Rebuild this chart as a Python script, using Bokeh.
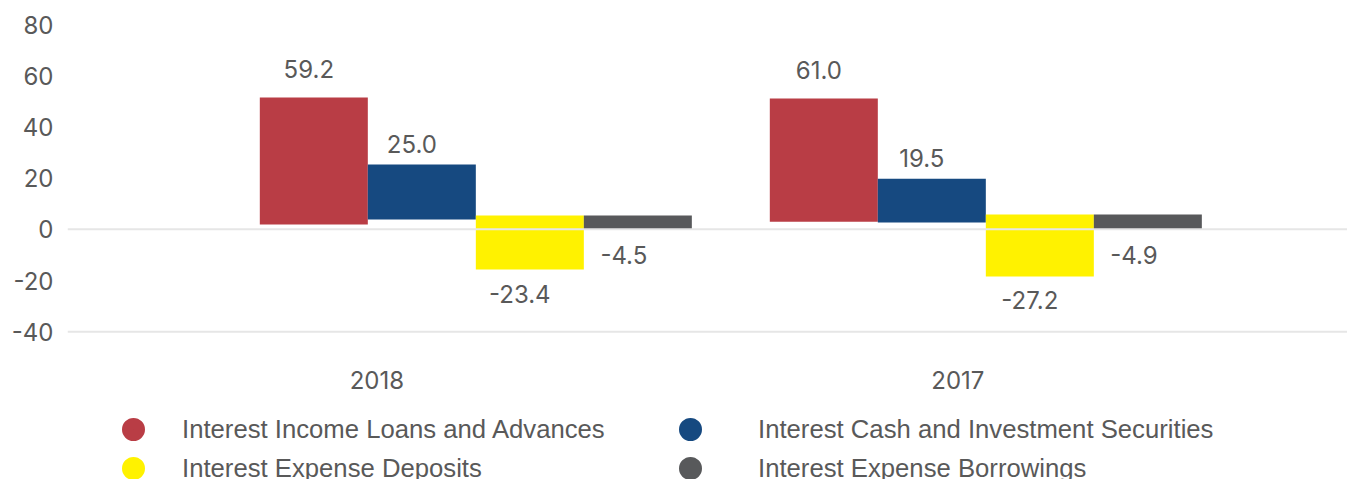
from bokeh.plotting import figure
from bokeh.models import ColumnDataSource, FixedTicker, Span, Legend, LegendItem, Range1d
from bokeh.core.properties import value
from bokeh.embed import file_html
from bokeh.resources import INLINE

# ---------------- data ----------------
years = ["2018", "2017"]
series = [
    "Interest Income Loans and Advances",
    "Interest Cash and Investment Securities",
    "Interest Expense Deposits",
    "Interest Expense Borrowings",
]
colors = ["#B93D45", "#164980", "#FFF200", "#58595B"]

# printed data labels
labels_2018 = [59.2, 25.0, -23.4, -4.5]
labels_2017 = [61.0, 19.5, -27.2, -4.9]

# floating bar extents as drawn on the value axis
bar_top_2018 = [51.5, 25.3, 5.4, 5.4]
bar_bottom_2018 = [1.9, 3.8, -15.7, 0.0]
bar_top_2017 = [51.1, 19.8, 5.8, 5.8]
bar_bottom_2017 = [3.0, 2.7, -18.4, 0.0]

y_ticks = [-40, -20, 0, 20, 40, 60, 80]
y_min, y_max = -40, 80

# ---------------- layout / style ----------------
GROUP_SHIFT = [0.1704, 0.0482]   # bar group centre relative to its category position
BAR_W = 0.1859
LABEL_OFFSETS = [28, 21, 24, 26]      # px distance of label from bar end, per series
LABEL_X_OFFSETS = [-5, -10, -10, -14]  # px horizontal nudge of labels, per series
CAT_LABEL_OFFSET = 48                 # px below the baseline (-40) line
TEXT = "#595959"
LINE = "#E6E6E6"
NUM_FONT = "Inter"
LEG_FONT = "Liberation Sans"

groups = [
    (labels_2018, bar_top_2018, bar_bottom_2018),
    (labels_2017, bar_top_2017, bar_bottom_2017),
]

bx, btop, bbot, bcol = [], [], [], []
lx, ly, lxoff, loff, ltxt = [], [], [], [], []
for gi, (labs, tops, bots) in enumerate(groups):
    centre = gi + GROUP_SHIFT[gi]
    for si in range(len(series)):
        x = centre + (si - 1.5) * BAR_W
        bx.append(x)
        btop.append(tops[si])
        bbot.append(bots[si])
        bcol.append(colors[si])
        lx.append(x)
        lxoff.append(LABEL_X_OFFSETS[si])
        if labs[si] >= 0:
            ly.append(tops[si])
            loff.append(-LABEL_OFFSETS[si])
        else:
            ly.append(bots[si])
            loff.append(LABEL_OFFSETS[si])
        ltxt.append(f"{labs[si]:.1f}")

bars = ColumnDataSource(dict(x=bx, top=btop, bottom=bbot, color=bcol))
lbls = ColumnDataSource(dict(x=lx, y=ly, xoff=lxoff, yoff=loff, text=ltxt))
cats = ColumnDataSource(dict(x=list(range(len(years))), y=[y_min] * len(years), text=years))

# frame spans from the 80 line down to the bottom of the picture (legend area included)
p = figure(
    width=1347, height=479,
    x_range=Range1d(-0.5324, 1.6707), y_range=Range1d(-97.7, y_max),
    output_backend="svg", toolbar_location=None,
    min_border_left=67, min_border_right=0, min_border_top=24, min_border_bottom=0,
)
p.outline_line_color = None
p.xgrid.visible = False
p.ygrid.visible = False
p.xaxis.visible = False

p.vbar(x="x", width=BAR_W, top="top", bottom="bottom", fill_color="color",
       line_color=None, source=bars)

p.add_layout(Span(location=0, dimension="width", line_color=LINE, line_width=2))
p.add_layout(Span(location=y_min, dimension="width", line_color=LINE, line_width=2))

p.text(x="x", y="y", text="text", x_offset="xoff", y_offset="yoff", source=lbls,
       text_align="center", text_baseline="middle", text_color=TEXT,
       text_font=value(NUM_FONT), text_font_size=value("24px"))

# category labels under the baseline
p.text(x="x", y="y", text="text", y_offset=CAT_LABEL_OFFSET, source=cats,
       text_align="center", text_baseline="middle", text_color=TEXT,
       text_font=value(NUM_FONT), text_font_size=value("24px"))

# y axis (plain hyphen for negatives, as in the original)
p.yaxis.ticker = FixedTicker(ticks=y_ticks)
p.yaxis.major_label_overrides = {t: str(t) for t in y_ticks}
p.yaxis.axis_line_color = None
p.yaxis.major_tick_line_color = None
p.yaxis.minor_tick_line_color = None
p.yaxis.major_label_standoff = 8
p.yaxis.major_label_text_font = NUM_FONT
p.yaxis.major_label_text_font_size = "24px"
p.yaxis.major_label_text_color = TEXT

# legend: two columns, each its own Legend
nan = float("nan")
items = []
for name, c in zip(series, colors):
    r = p.scatter(x=[nan], y=[nan], size=10, fill_color=c, line_color=c, line_width=11)
    items.append(LegendItem(label=name, renderers=[r]))

common = dict(
    orientation="vertical", border_line_color=None, background_fill_alpha=0,
    padding=0, margin=0, spacing=9, glyph_width=30, glyph_height=30,
    label_text_font=LEG_FONT, label_text_font_size="25.7px", label_text_color=TEXT,
)
leg1 = Legend(items=[items[0], items[2]], location=(51, -4), label_standoff=34, **common)
leg2 = Legend(items=[items[1], items[3]], location=(608, -4), label_standoff=53, **common)
p.add_layout(leg1)
p.add_layout(leg2)

open("out.html", "w").write(file_html(p, INLINE))
